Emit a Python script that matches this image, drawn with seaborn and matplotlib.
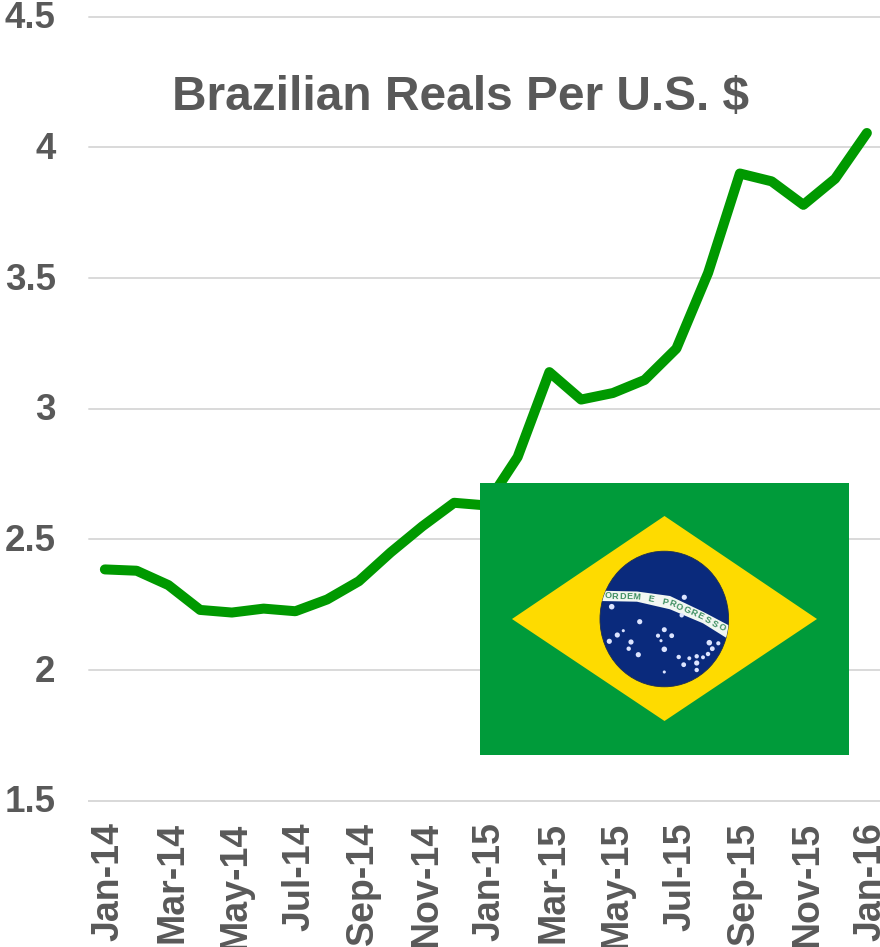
import numpy as np
import pandas as pd
import matplotlib
matplotlib.use("Agg")
import matplotlib.pyplot as plt
from matplotlib.patches import Rectangle, Polygon, Ellipse
from matplotlib.transforms import ScaledTranslation
import seaborn as sns

# Brazilian reals per US dollar, monthly
months = ["Jan-14", "Feb-14", "Mar-14", "Apr-14", "May-14", "Jun-14", "Jul-14", "Aug-14", "Sep-14",
          "Oct-14", "Nov-14", "Dec-14", "Jan-15", "Feb-15", "Mar-15", "Apr-15", "May-15", "Jun-15",
          "Jul-15", "Aug-15", "Sep-15", "Oct-15", "Nov-15", "Dec-15", "Jan-16"]
reals = [2.385, 2.38, 2.325, 2.23, 2.22, 2.235, 2.225, 2.27, 2.34, 2.45, 2.55, 2.64, 2.63,
         2.815, 3.14, 3.035, 3.06, 3.11, 3.23, 3.52, 3.90, 3.87, 3.78, 3.88, 4.055]
y_ticks = [1.5, 2, 2.5, 3, 3.5, 4, 4.5]
y_labels = ["1.5", "2", "2.5", "3", "3.5", "4", "4.5"]

# flag details, in reference pixels
star_x = [684.3, 611.7, 681.7, 639.7, 623.3, 664.3, 617.3, 658, 671.7, 661, 609.3, 631, 628.7, 664.3,
          638.3, 709.3, 718.3, 712.3, 708, 703, 696.7, 689.3, 678.7, 683.7, 696.7, 696.7, 664.3]
star_y = [597.3, 606.7, 615.3, 621.7, 630.7, 629.7, 635, 635.7, 635.7, 640.7, 641.3, 642, 648.7, 649.3,
          654.7, 642.7, 643.3, 648.7, 654, 657.3, 656.3, 658.3, 657, 664.7, 663, 670, 672]
star_size = [14, 16, 10, 14, 5, 13, 14, 9, 12, 5, 14, 14, 10, 16,
             14, 16, 9, 12, 10, 8, 10, 8, 10, 12, 14, 10, 5]
band_top_x = [600, 637, 670, 703, 730]
band_top_y = [590.7, 591.5, 596, 611.7, 626]
band_bot_x = [600, 637, 670, 703, 727]
band_bot_y = [601, 601.7, 609.3, 623.3, 638.3]
motto = "ORDEM E PROGRESSO"

sns.set_style("white")
plt.rcParams["font.family"] = ["Liberation Sans", "DejaVu Sans"]
plt.rcParams["font.weight"] = "bold"

df = pd.DataFrame({"month": range(len(months)), "reals": reals})

fig = plt.figure(figsize=(8.8, 9.47), dpi=100)
ax = fig.add_axes([89 / 880, 1 - 800.7 / 947, 793.75 / 880, 784 / 947])

sns.lineplot(data=df, x="month", y="reals", color="#009900", linewidth=7.2, ax=ax,
             solid_capstyle="round", solid_joinstyle="round", clip_on=False, zorder=3)

ax.set_xlim(-0.5, 24.5)
ax.set_ylim(1.5, 4.5)
ax.set_xlabel("")
ax.set_ylabel("")
ax.set_yticks(y_ticks)
ax.set_yticklabels(y_labels)
ax.set_xticks(range(0, 25, 2))
ax.set_xticklabels(months[::2], rotation=90)
ax.set_xticks(np.arange(-0.5, 25, 2), minor=True)
ax.tick_params(axis="y", length=0, pad=24, labelsize=26.5, labelcolor="#595959")
ax.tick_params(axis="x", which="major", length=0, pad=15.5, labelsize=27, labelcolor="#595959")
ax.tick_params(axis="x", which="minor", length=8, width=1.4, color="#D9D9D9")
ax.grid(axis="y", color="#D9D9D9", linewidth=1.4, clip_on=False)
ax.set_axisbelow(True)
sns.despine(ax=ax, left=True)
ax.spines["bottom"].set_color("#D9D9D9")
ax.spines["bottom"].set_linewidth(1.4)

# nudge tick labels a few pixels to sit like the reference
for lab in ax.get_xticklabels():
    lab.set_transform(lab.get_transform() + ScaledTranslation(4 / 100, 0, fig.dpi_scale_trans))
for lab in ax.get_yticklabels():
    lab.set_transform(lab.get_transform() + ScaledTranslation(0, 2 / 100, fig.dpi_scale_trans))

fig.text(461 / 880, 1 - 97 / 947, "Brazilian Reals Per U.S. $", ha="center", va="center",
         fontsize=34.5, color="#595959", fontweight="bold")

# flag drawn on its own axes, using pixel coordinates of the picture
fl = fig.add_axes([480 / 880, 1 - 755 / 947, 369 / 880, 272 / 947])
fl.set_xlim(480, 849)
fl.set_ylim(755, 483)
fl.axis("off")
fl.add_patch(Rectangle((480, 483), 369, 272, color="#009B3A", lw=0))
fl.add_patch(Polygon([(512, 619), (664.5, 516), (817, 619), (664.5, 721)], color="#FEDB00", lw=0))
disc = Ellipse((664.3, 619), 128.6, 135.6, facecolor="#0A2A7C", edgecolor="#1F2F4F", lw=0.6)
fl.add_patch(disc)
band = Polygon(list(zip(band_top_x, band_top_y)) + list(zip(band_bot_x, band_bot_y))[::-1],
               color="#F2F7F2", lw=0, zorder=3)
fl.add_patch(band)
band.set_clip_path(disc)
fl.scatter(star_x, star_y, s=star_size, color="#DCE4FF", linewidths=0, zorder=4)

mid_y = (np.array(band_top_y) + np.array(band_bot_y)) / 2
letter_x = np.linspace(608, 722, len(motto))
letter_y = np.interp(letter_x, band_top_x, mid_y)
slope = np.gradient(letter_y, letter_x)
for ch, lx, ly, sl in zip(motto, letter_x, letter_y, slope):
    fl.text(lx, ly, ch, ha="center", va="center", fontsize=6.5, color="#3E8F62",
            rotation=-np.degrees(np.arctan(sl)), rotation_mode="anchor", zorder=5)

fig.savefig("out.png", dpi=100, facecolor="white")
